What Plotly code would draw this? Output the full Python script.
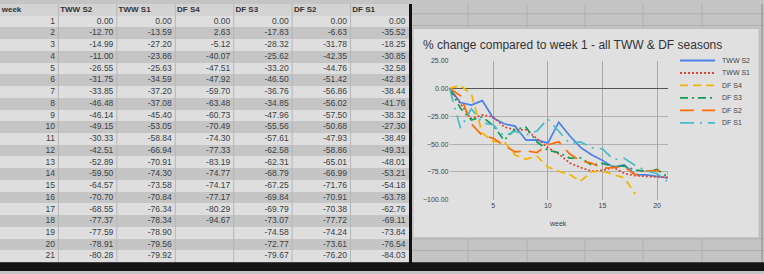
import plotly.graph_objects as go

W, H = 764, 274

weeks = list(range(1, 22))
series_names = ["TWW S2", "TWW S1", "DF S4", "DF S3", "DF S2", "DF S1"]
tww_s2 = [0.00, -12.70, -14.99, -11.00, -26.55, -31.75, -33.85, -46.48, -46.14, -49.15, -30.33,
          -42.51, -52.89, -59.50, -64.57, -70.70, -68.55, -77.37, -77.59, -78.91, -80.28]
tww_s1 = [0.00, -13.59, -27.20, -23.86, -25.63, -34.59, -37.20, -37.08, -45.40, -53.05, -58.84,
          -66.94, -70.91, -74.30, -73.58, -70.84, -76.34, -78.34, -78.90, -79.56, -79.92]
df_s4 = [0.00, 2.63, -5.12, -40.07, -47.51, -47.92, -59.70, -63.48, -60.73, -70.49, -74.30,
         -77.33, -83.19, -74.77, -74.17, -77.17, -80.29, -94.67, None, None, None]
df_s3 = [0.00, -17.83, -28.32, -25.62, -33.20, -46.50, -36.76, -34.85, -47.96, -55.56, -57.61,
         -62.58, -62.31, -68.79, -67.25, -69.84, -69.79, -73.07, -74.58, -72.77, -79.67]
df_s2 = [0.00, -6.63, -31.78, -42.35, -44.76, -51.42, -56.86, -56.02, -57.50, -50.68, -47.93,
         -58.86, -65.01, -66.99, -71.76, -70.91, -70.38, -77.72, -74.24, -73.61, -76.20]
df_s1 = [0.00, -35.52, -18.25, -30.85, -32.58, -42.83, -38.44, -41.76, -38.32, -27.30, -38.49,
         -49.31, -48.01, -53.21, -54.18, -63.78, -62.76, -69.11, -73.84, -76.54, -84.03]
header_labels = ["week"] + series_names
y_ticks = [25, 0, -25, -50, -75, -100]
x_ticks = [5, 10, 15, 20]

all_series = [tww_s2, tww_s1, df_s4, df_s3, df_s2, df_s1]
colors = ["#4a80e8", "#db4437", "#f4b400", "#0f9d58", "#ff6d01", "#46bdc6"]
dashes = ["solid", "2px,2px", "8px,5px", "8px,4px,2px,4px", "14px,8px", "14px,6px,2px,6px"]

FONT = "Liberation Sans, Arial, sans-serif"


def fx(px):
    return px / W


def fy(py):
    return 1 - py / H


fig = go.Figure()

# ---- spreadsheet table on the left (drawn on its own axes) ----
n_rows = len(weeks) + 1  # header + data rows
row_kind = [0] + [1 if i % 2 == 0 else 2 for i in range(len(weeks))]
fig.add_trace(go.Heatmap(
    x=[0, len(header_labels)], y=list(range(n_rows + 1)),
    z=[[k] for k in row_kind], zmin=0, zmax=2,
    colorscale=[[0, "#d3d3d3"], [0.333, "#d3d3d3"], [0.334, "#dedede"], [0.666, "#dedede"],
                [0.667, "#c5c5c5"], [1, "#c5c5c5"]],
    showscale=False, hoverinfo="skip", xaxis="x2", yaxis="y2",
))


def fmt(v):
    return "" if v is None else f"{v:.2f}"


cols = [[str(w) for w in weeks]] + [[fmt(v) for v in s] for s in all_series]
pad = 0.06
for ci, col in enumerate(cols):
    fig.add_trace(go.Scatter(
        x=[ci + 1 - pad] * len(col), y=[r + 1.5 for r in range(len(col))], text=col,
        mode="text", textposition="middle left", showlegend=False, hoverinfo="skip",
        textfont=dict(family=FONT, size=8.5, color="#3a3f45"), xaxis="x2", yaxis="y2",
    ))
fig.add_trace(go.Scatter(
    x=[ci + 0.03 for ci in range(len(header_labels))], y=[0.5] * len(header_labels),
    text=[f"<b>{h}</b>" for h in header_labels],
    mode="text", textposition="middle right", showlegend=False, hoverinfo="skip",
    textfont=dict(family=FONT, size=8, color="#333333"), xaxis="x2", yaxis="y2",
))

# ---- line chart ----
for name, s, c, d in zip(series_names, all_series, colors, dashes):
    fig.add_trace(go.Scatter(
        x=weeks, y=s, name=name, mode="lines",
        line=dict(color=c, width=1.7, dash=d),
        connectgaps=False, showlegend=False, xaxis="x", yaxis="y",
    ))

shapes = []
# column separators of the table
for cx in range(1, len(header_labels)):
    shapes.append(dict(type="line", xref="x2", yref="paper", x0=cx, x1=cx, y0=fy(265), y1=1,
                       line=dict(color="#b6b6b6", width=1)))
# black borders
shapes.append(dict(type="rect", xref="paper", yref="paper", x0=fx(409), x1=fx(412), y0=fy(266), y1=1,
                   fillcolor="#111111", line=dict(width=0)))
shapes.append(dict(type="rect", xref="paper", yref="paper", x0=0, x1=1, y0=0, y1=fy(265),
                   fillcolor="#141414", line=dict(width=0)))
# spreadsheet grid on the right
for gx in [468, 527, 585, 643, 702]:
    shapes.append(dict(type="line", xref="paper", yref="paper", x0=fx(gx), x1=fx(gx), y0=fy(265), y1=1,
                       line=dict(color="#b0b0b0", width=1), layer="below"))
for gy in [10, 22, 241, 253]:
    shapes.append(dict(type="line", xref="paper", yref="paper", x0=fx(412), x1=1, y0=fy(gy), y1=fy(gy),
                       line=dict(color="#b0b0b0", width=1), layer="below"))
shapes.append(dict(type="line", xref="paper", yref="paper", x0=fx(762), x1=fx(762), y0=fy(265), y1=1,
                   line=dict(color="#8a8a8a", width=1), layer="below"))
# chart panel
shapes.append(dict(type="rect", xref="paper", yref="paper", x0=fx(413), x1=fx(759), y0=fy(240), y1=fy(25),
                   fillcolor="#e0e0e0", line=dict(color="#bcbcbc", width=1), layer="below"))

annotations = []
annotations.append(dict(xref="paper", yref="paper", x=fx(421), y=fy(42), xanchor="left", yanchor="middle",
                        text="% change compared to week 1 - all TWW &amp; DF seasons", showarrow=False,
                        font=dict(family=FONT, size=12, color="#333333")))
annotations.append(dict(xref="paper", yref="paper", x=fx(558), y=fy(225), xanchor="center", yanchor="middle",
                        text="week", showarrow=False, font=dict(family=FONT, size=7, color="#444444")))
# legend (drawn manually to match compact spacing)
for i, (name, c, d) in enumerate(zip(series_names, colors, dashes)):
    ly = 58 + 12.8 * i
    shapes.append(dict(type="line", xref="paper", yref="paper", x0=fx(680), x1=fx(715), y0=fy(ly), y1=fy(ly),
                       line=dict(color=c, width=1.8, dash=d)))
    annotations.append(dict(xref="paper", yref="paper", x=fx(720), y=fy(ly), xanchor="left", yanchor="middle",
                            text=name, showarrow=False, font=dict(family=FONT, size=7, color="#444444")))

fig.update_layout(
    width=W, height=H,
    margin=dict(l=0, r=0, t=0, b=0),
    paper_bgcolor="#c4c4c4",
    plot_bgcolor="rgba(0,0,0,0)",
    showlegend=False,
    shapes=shapes,
    annotations=annotations,
    xaxis=dict(domain=[fx(449.5), fx(668)], range=[1, 21], tickvals=x_ticks,
               showgrid=True, gridcolor="#a8a8a8", gridwidth=1, zeroline=False, showline=False,
               ticks="", tickfont=dict(family=FONT, size=7, color="#444444")),
    yaxis=dict(domain=[fy(201), fy(58)], range=[-100, 25], tickvals=y_ticks, tickformat=".2f",
               showgrid=True, gridcolor="#b0b0b0", gridwidth=1, zeroline=True, zerolinecolor="#555555",
               zerolinewidth=1, showline=False, ticks="",
               tickfont=dict(family=FONT, size=7, color="#444444")),
    xaxis2=dict(domain=[0, fx(409)], range=[0, len(header_labels)], visible=False, fixedrange=True),
    yaxis2=dict(domain=[fy(265), 1], range=[n_rows, 0], visible=False, fixedrange=True),
)

fig.write_html("out.html")
